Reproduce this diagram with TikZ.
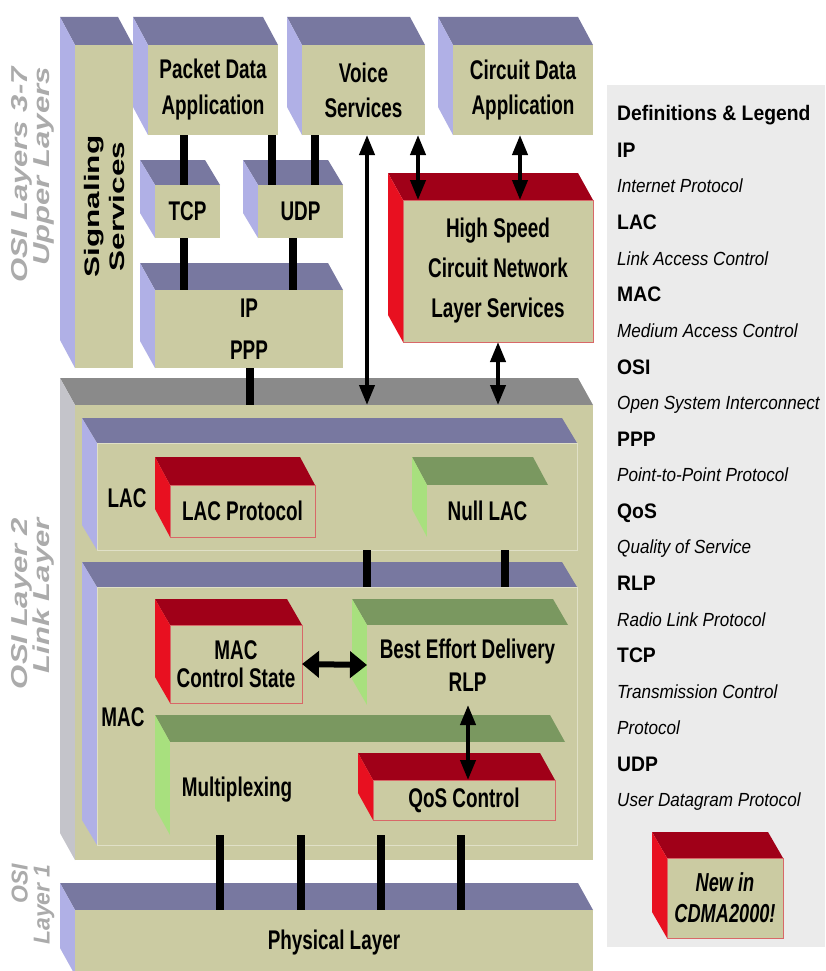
\documentclass[tikz,border=0pt]{standalone}
\usepackage{fontspec}
\setmainfont{Liberation Sans}
\newfontfamily\dfont[FakeStretch=0.70]{Liberation Sans}
\newfontfamily\legb[FakeStretch=0.92]{Liberation Sans}
\newfontfamily\legi[FakeStretch=0.9]{Liberation Sans}
\newfontfamily\rotf[FakeStretch=1.35]{Liberation Sans}
\newfontfamily\rotfb[FakeStretch=1.0]{Liberation Sans}
\newfontfamily\sigfont[FakeStretch=1.5]{Liberation Sans}
\usetikzlibrary{arrows.meta}
\definecolor{khaki}{HTML}{CBCBA2}
\definecolor{slate}{HTML}{7878A0}
\definecolor{lav}{HTML}{B0B0E6}
\definecolor{gtop}{HTML}{8A8A8A}
\definecolor{gleft}{HTML}{C4C4CA}
\definecolor{rtop}{HTML}{A00018}
\definecolor{rleft}{HTML}{E81020}
\definecolor{rline}{HTML}{D86868}
\definecolor{ntop}{HTML}{7A9860}
\definecolor{nleft}{HTML}{A8E07E}
\definecolor{legbg}{HTML}{EBEBEB}
\definecolor{osigray}{HTML}{ABABAB}
\tikzset{
  blue top/.style={fill=slate}, blue left/.style={fill=lav}, blue front/.style={fill=khaki},
  sub top/.style={fill=slate}, sub left/.style={fill=lav}, sub front/.style={fill=khaki, draw=khaki!60!white, line width=1pt},
  red top/.style={fill=rtop}, red left/.style={fill=rleft}, red front/.style={fill=khaki, draw=rline, line width=1pt},
  green top/.style={fill=ntop}, green left/.style={fill=nleft}, green front/.style={fill=khaki},
  gray top/.style={fill=gtop}, gray left/.style={fill=gleft}, gray front/.style={fill=khaki},
  box/.style={inner sep=0pt, outer sep=0pt, align=center, font=\dfont\bfseries\fontsize{27}{35}\selectfont},
  lh/.style={font=\dfont\bfseries\fontsize{27}{#1}\selectfont},
  lhi/.style={font=\dfont\bfseries\itshape\fontsize{26}{#1}\selectfont},
  lbl/.style={inner sep=0pt, font=\dfont\bfseries\fontsize{27}{30}\selectfont},
  osilab/.style={rotate=90, align=right, inner sep=0pt, text=osigray, font=\rotf\bfseries\itshape\fontsize{23}{22}\selectfont},
  legbold/.style={anchor=base west, inner sep=0pt, font=\legb\bfseries\fontsize{21}{25}\selectfont},
  legit/.style={anchor=base west, inner sep=0pt, font=\legi\itshape\fontsize{19}{23}\selectfont},
  bar/.style={line width=8pt},
  dbl/.style={line width=4pt, {Triangle[width=15pt,length=20pt]}-{Triangle[width=15pt,length=20pt]}},
  hdbl/.style={line width=6pt, {Triangle[width=26pt,length=17pt]}-{Triangle[width=26pt,length=17pt]}}
}
\newcommand{\cube}[9]{%
  \fill[#6 top] (#2,#3) -- ++(-15,-#7) -- ({#4-15},{#3-#7}) -- (#4,#3) -- cycle;
  \fill[#6 left] (#2,#3) -- ++(-15,-#7) -- ({#2-15},{#5-#7}) -- (#2,#5) -- cycle;
  \node[box, #6 front, minimum width={(#4-#2)*1pt}, minimum height={(#5-#3)*1pt}, #8] (#1) at ({(#2+#4)/2},{(#3+#5)/2}) {#9};
}
\begin{document}
\begin{tikzpicture}[x=1pt,y=-1pt]
\useasboundingbox (0,0) rectangle (825,971);
\fill[white] (0,0) rectangle (825,971);
% legend panel
\node[fill=legbg, inner sep=0pt, minimum width=218pt, minimum height=862pt] (legend) at (716,516) {};
% OSI labels
\node[osilab, anchor=east] (osi37) at (33,67) {OSI Layers 3-7\\Upper Layers};
\node[osilab, anchor=east] (osi2) at (33,518) {OSI Layer 2\\Link Layer};
\node[osilab, anchor=east, font=\rotfb\bfseries\itshape\fontsize{23}{22}\selectfont] (osi1) at (33,864) {OSI\\Layer 1};
% upper layers
\cube{sig}{75}{45}{133}{368}{blue}{28}{}{}
\node[rotate=90, align=center, inner sep=0pt, font=\sigfont\bfseries\fontsize{21}{25}\selectfont] (sigtext) at (sig.center) {Signaling\\Services};
\cube{pda}{148}{45}{278}{135}{blue}{28}{lh=36}{Packet Data\\Application}
\cube{voice}{302}{45}{425}{135}{blue}{28}{lh=35}{Voice\\Services}
\cube{cda}{453}{45}{593}{135}{blue}{28}{lh=35}{Circuit Data\\Application}
\cube{tcp}{155}{185}{220}{238}{blue}{25}{}{TCP}
\cube{udp}{258}{185}{343}{238}{blue}{25}{}{UDP}
\cube{ip}{155}{290}{343}{368}{blue}{27}{lh=42}{IP\\PPP}
\cube{hs}{403}{200}{593}{342}{red}{27}{lh=40}{High Speed\\Circuit Network\\Layer Services}
% layer 2
\cube{l2}{75}{405}{593}{860}{gray}{27}{}{}
\cube{lac}{97}{443}{577}{550}{sub}{25}{}{}
\node[lbl] (laclab) at (127,498) {LAC};
\cube{lacp}{170}{485}{315}{537}{red}{28}{}{LAC Protocol}
\cube{nlac}{427}{485}{548}{537}{green}{28}{}{Null LAC}
\cube{mac}{97}{587}{577}{845}{sub}{25}{}{}
\node[lbl] (maclab) at (123,717) {MAC};
\cube{mcs}{170}{625}{302}{703}{red}{26}{lh=28}{MAC\\Control State}
\cube{bed}{367}{625}{568}{705}{green}{26}{lh=33}{Best Effort Delivery\\RLP}
\cube{mux}{170}{742}{565}{835}{green}{27}{}{}
\node[lbl] (muxlab) at (237,790) {Multiplexing};
\cube{qos}{373}{780}{555}{820}{red}{27}{}{QoS Control}
% physical
\cube{phy}{75}{910}{593}{975}{blue}{27}{}{Physical Layer}
% legend box
\cube{newb}{667}{858}{783}{938}{red}{26}{lhi=31}{New in\\CDMA2000!}
% column coordinates
\coordinate (xA) at (184,0);
\coordinate (xB) at (272,0);
\coordinate (xC) at (293,0);
\coordinate (xD) at (315,0);
\coordinate (xE) at (250,0);
\coordinate (xF) at (367,0);
\coordinate (xG) at (418,0);
\coordinate (xH) at (520,0);
\coordinate (xI) at (498,0);
\coordinate (xJ) at (367,0);
\coordinate (xK) at (505,0);
\coordinate (xL) at (468,0);
\coordinate (p1) at (220,0);
\coordinate (p2) at (301,0);
\coordinate (p3) at (381,0);
\coordinate (p4) at (461,0);
% connectors
\draw[bar] (pda.south -| xA) -- (tcp.north -| xA);
\draw[bar] (pda.south -| xB) -- (udp.north -| xB);
\draw[bar] (voice.south -| xD) -- (udp.north -| xD);
\draw[bar] (tcp.south -| xA) -- (ip.north -| xA);
\draw[bar] (udp.south -| xC) -- (ip.north -| xC);
\draw[bar] (ip.south -| xE) -- (l2.north -| xE);
\draw[dbl] (voice.south -| xF) -- (l2.north -| xF);
\draw[dbl] (voice.south -| xG) -- (hs.north -| xG);
\draw[dbl] (cda.south -| xH) -- (hs.north -| xH);
\draw[dbl] (hs.south -| xI) -- (l2.north -| xI);
\draw[bar] (lac.south -| xJ) -- (mac.north -| xJ);
\draw[bar] (lac.south -| xK) -- (mac.north -| xK);
\draw[hdbl] (mcs.east) -- (bed.west);
\draw[dbl] (bed.south -| xL) -- (qos.north -| xL);
\draw[bar] (mux.south -| p1) -- (phy.north -| p1);
\draw[bar] (mux.south -| p2) -- (phy.north -| p2);
\draw[bar] (mux.south -| p3) -- (phy.north -| p3);
\draw[bar] (mux.south -| p4) -- (phy.north -| p4);
% legend text
\node[legbold] (lg0) at (617,120.5) {Definitions \& Legend};
\node[legbold] (lg1) at (617,157.5) {IP};
\node[legit] (lg2) at (617,192.9) {Internet Protocol};
\node[legbold] (lg3) at (617,229.7) {LAC};
\node[legit] (lg4) at (617,265.1) {Link Access Control};
\node[legbold] (lg5) at (617,301.9) {MAC};
\node[legit] (lg6) at (617,337.3) {Medium Access Control};
\node[legbold] (lg7) at (617,374.1) {OSI};
\node[legit] (lg8) at (617,409.5) {Open System Interconnect};
\node[legbold] (lg9) at (617,446.3) {PPP};
\node[legit] (lg10) at (617,481.7) {Point-to-Point Protocol};
\node[legbold] (lg11) at (617,518.5) {QoS};
\node[legit] (lg12) at (617,553.9) {Quality of Service};
\node[legbold] (lg13) at (617,590.7) {RLP};
\node[legit] (lg14) at (617,626.1) {Radio Link Protocol};
\node[legbold] (lg15) at (617,662.9) {TCP};
\node[legit] (lg16) at (617,698.3) {Transmission Control};
\node[legit] (lg17) at (617,734.4) {Protocol};
\node[legbold] (lg18) at (617,771.2) {UDP};
\node[legit] (lg19) at (617,806.6) {User Datagram Protocol};
\end{tikzpicture}
\end{document}
